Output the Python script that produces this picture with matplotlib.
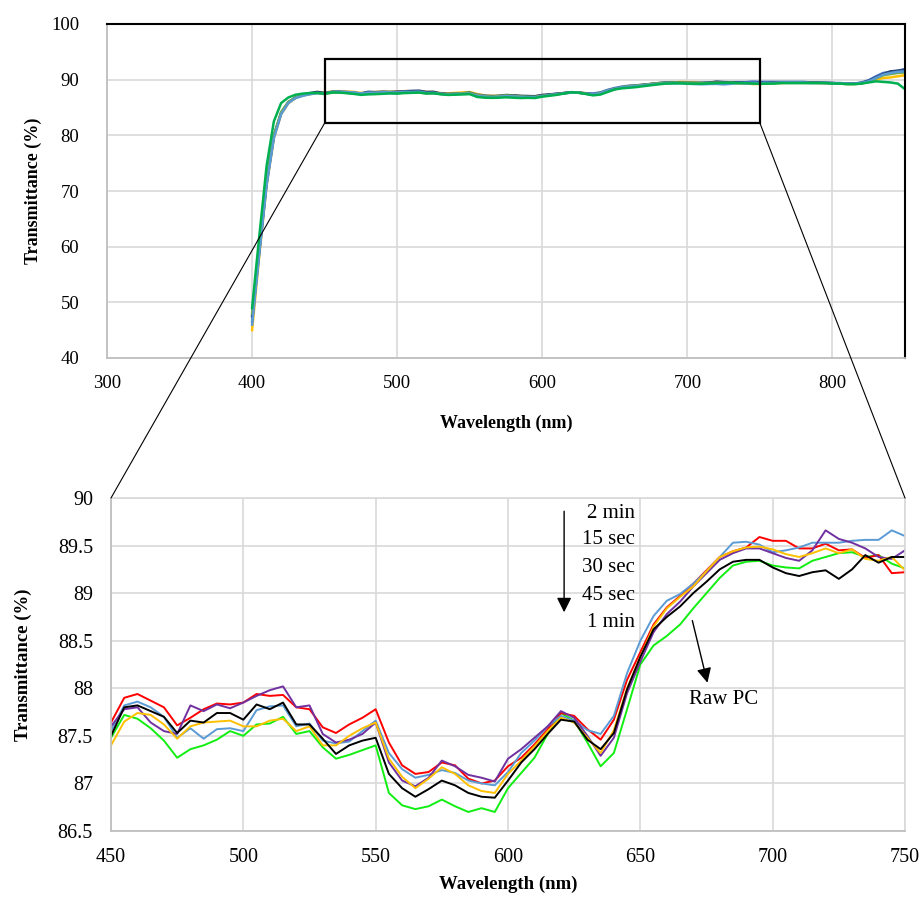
import numpy as np
import matplotlib
matplotlib.use('Agg')
import matplotlib.pyplot as plt
from matplotlib.patches import Rectangle, ConnectionPatch

plt.rcParams['font.family'] = ['Liberation Serif', 'DejaVu Serif']

# zoomed region, 5 nm steps (450-750 nm)
wl = np.arange(450, 751, 5)

t_red = [87.64, 87.90, 87.94, 87.87, 87.80, 87.61, 87.69, 87.78, 87.84, 87.83, 87.85, 87.94, 87.92, 87.93, 87.80, 87.78,
         87.59, 87.53, 87.62, 87.69, 87.78, 87.43, 87.19, 87.10, 87.12, 87.22, 87.19, 87.05, 87.00, 87.03, 87.18,
         87.27, 87.41, 87.57, 87.74, 87.71, 87.57, 87.46, 87.67, 88.09, 88.38, 88.67, 88.85, 88.97, 89.10, 89.24,
         89.38, 89.44, 89.48, 89.59, 89.55, 89.55, 89.47, 89.47, 89.52, 89.45, 89.46, 89.37, 89.40, 89.21, 89.22]
t_blue = [87.55, 87.82, 87.86, 87.80, 87.70, 87.48, 87.58, 87.47, 87.57, 87.58, 87.55, 87.77, 87.81, 87.82, 87.60, 87.63,
          87.45, 87.42, 87.44, 87.55, 87.66, 87.32, 87.15, 87.06, 87.09, 87.14, 87.11, 87.03, 87.00, 86.98, 87.12,
          87.32, 87.45, 87.60, 87.71, 87.66, 87.56, 87.52, 87.71, 88.16, 88.50, 88.76, 88.92, 88.99, 89.10, 89.23,
          89.38, 89.53, 89.54, 89.51, 89.43, 89.45, 89.48, 89.53, 89.53, 89.53, 89.55, 89.56, 89.56, 89.66, 89.60]
t_purple = [87.60, 87.78, 87.80, 87.64, 87.55, 87.52, 87.82, 87.76, 87.83, 87.79, 87.85, 87.92, 87.98, 88.02, 87.80, 87.82,
            87.52, 87.43, 87.46, 87.52, 87.64, 87.22, 87.03, 86.97, 87.06, 87.24, 87.18, 87.09, 87.06, 87.02, 87.26,
            87.36, 87.48, 87.60, 87.76, 87.69, 87.50, 87.29, 87.48, 87.95, 88.28, 88.59, 88.78, 88.91, 89.07, 89.21,
            89.35, 89.42, 89.47, 89.47, 89.42, 89.37, 89.34, 89.45, 89.66, 89.57, 89.53, 89.47, 89.38, 89.36, 89.45]
t_orange = [87.40, 87.65, 87.74, 87.72, 87.62, 87.47, 87.60, 87.64, 87.65, 87.66, 87.60, 87.60, 87.66, 87.68, 87.55, 87.60,
            87.40, 87.40, 87.50, 87.58, 87.64, 87.26, 87.07, 86.95, 87.05, 87.17, 87.10, 86.98, 86.92, 86.90, 87.10,
            87.24, 87.39, 87.55, 87.69, 87.64, 87.48, 87.32, 87.56, 88.00, 88.33, 88.65, 88.84, 88.96, 89.07, 89.23,
            89.38, 89.44, 89.48, 89.49, 89.46, 89.41, 89.38, 89.42, 89.47, 89.42, 89.46, 89.36, 89.34, 89.38, 89.24]
t_black = [87.50, 87.80, 87.82, 87.76, 87.70, 87.53, 87.66, 87.64, 87.74, 87.74, 87.67, 87.83, 87.78, 87.85, 87.62, 87.62,
           87.47, 87.31, 87.40, 87.45, 87.48, 87.10, 86.95, 86.86, 86.94, 87.03, 86.98, 86.90, 86.86, 86.85, 87.03,
           87.22, 87.36, 87.52, 87.67, 87.65, 87.46, 87.36, 87.53, 87.99, 88.33, 88.62, 88.75, 88.86, 89.00, 89.12,
           89.25, 89.33, 89.35, 89.35, 89.27, 89.21, 89.18, 89.22, 89.24, 89.15, 89.25, 89.40, 89.32, 89.38, 89.38]
t_green = [87.48, 87.72, 87.68, 87.58, 87.45, 87.27, 87.36, 87.40, 87.46, 87.55, 87.50, 87.62, 87.63, 87.70, 87.52, 87.55,
           87.38, 87.26, 87.30, 87.35, 87.40, 86.90, 86.77, 86.73, 86.76, 86.83, 86.76, 86.70, 86.74, 86.70, 86.95,
           87.11, 87.27, 87.52, 87.74, 87.66, 87.43, 87.18, 87.32, 87.78, 88.25, 88.45, 88.55, 88.67, 88.84, 89.00,
           89.16, 89.29, 89.33, 89.34, 89.29, 89.27, 89.26, 89.34, 89.38, 89.42, 89.43, 89.38, 89.40, 89.31, 89.26]

# full spectrum: edge (400-445 nm) and tail (755-850 nm) for the same six samples
wl_head = [400, 405, 410, 415, 420, 425, 430, 435, 440, 445]
wl_tail = [755, 760, 765, 770, 775, 780, 785, 790, 795, 800, 805, 810, 815, 820, 825, 830, 835, 840, 845, 850]
head = [[45.0, 58.5, 71.0, 79.5, 83.8, 85.8, 86.7, 87.2, 87.5, 87.8],
        [46.5, 59.0, 71.5, 80.0, 84.0, 86.0, 86.8, 87.2, 87.5, 87.7],
        [47.5, 59.5, 71.5, 79.8, 84.0, 85.9, 86.8, 87.3, 87.6, 87.8],
        [48.0, 60.0, 72.0, 80.0, 84.2, 86.0, 86.8, 87.2, 87.4, 87.6],
        [46.0, 59.0, 71.0, 79.5, 83.8, 85.8, 86.7, 87.1, 87.4, 87.6],
        [49.0, 62.0, 74.5, 82.5, 85.8, 86.8, 87.3, 87.5, 87.6, 87.6]]
tail = [[89.3, 89.4, 89.4, 89.5, 89.5, 89.5, 89.5, 89.4, 89.4, 89.4, 89.3, 89.3, 89.3, 89.4, 89.6, 90.0, 90.3, 90.4, 90.6, 90.8],
        [89.6, 89.6, 89.6, 89.6, 89.6, 89.6, 89.5, 89.5, 89.5, 89.4, 89.4, 89.3, 89.3, 89.5, 89.9, 90.6, 91.2, 91.4, 91.6, 91.9],
        [89.4, 89.5, 89.5, 89.5, 89.5, 89.5, 89.5, 89.5, 89.4, 89.4, 89.3, 89.3, 89.3, 89.4, 89.8, 90.4, 91.0, 91.5, 91.6, 91.8],
        [89.3, 89.4, 89.4, 89.4, 89.4, 89.4, 89.4, 89.4, 89.4, 89.3, 89.3, 89.2, 89.2, 89.3, 89.6, 90.2, 90.8, 91.0, 91.2, 91.3],
        [89.4, 89.4, 89.5, 89.5, 89.5, 89.5, 89.4, 89.4, 89.4, 89.4, 89.3, 89.3, 89.3, 89.4, 89.7, 90.3, 90.9, 91.2, 91.4, 91.5],
        [89.3, 89.3, 89.4, 89.4, 89.4, 89.4, 89.4, 89.4, 89.4, 89.3, 89.3, 89.2, 89.2, 89.3, 89.5, 89.7, 89.6, 89.5, 89.3, 88.3]]

zoom_series = [t_red, t_blue, t_purple, t_orange, t_black, t_green]
top_colors = ['#FFC000', '#4472C4', '#264478', '#70AD47', '#5B9BD5', '#00B050']
zoom_colors = ['#FF0000', '#5B9BD5', '#7030A0', '#FFC000', '#000000', '#11EE11']
time_labels = ['2 min', '15 sec', '30 sec', '45 sec', '1 min']

grid_c = '#d9d9d9'
axis_c = '#bfbfbf'

fig = plt.figure(figsize=(9.24, 8.98), dpi=100)
ax1 = fig.add_axes([107/924, 1-358/898, 798/924, 334/898])
ax2 = fig.add_axes([111/924, 1-831/898, 794/924, 333/898])

# ---- full spectrum
for i in range(6):
    x = list(wl_head) + list(wl) + list(wl_tail)
    y = head[i] + zoom_series[i] + tail[i]
    ax1.plot(x, y, color=top_colors[i], lw=1.8)
ax1.set_xlim(300, 850)
ax1.set_ylim(40, 100)
ax1.set_xticks(range(300, 801, 100))
ax1.set_yticks(range(40, 101, 10))
ax1.grid(True, color=grid_c, lw=1.2)
ax1.tick_params(length=0, labelsize=13.5, pad=12)
ax1.tick_params(axis='y', pad=20)
for s in ['left', 'bottom']:
    ax1.spines[s].set_color(axis_c)
    ax1.spines[s].set_linewidth(1.3)
for s in ['top', 'right']:
    ax1.spines[s].set_color('black')
    ax1.spines[s].set_linewidth(1.5)
ax1.set_xlabel('Wavelength (nm)', fontsize=13, fontweight='bold')
ax1.set_ylabel('Transmittance (%)', fontsize=13, fontweight='bold')
ax1.xaxis.set_label_coords(0.5, -0.171)
ax1.yaxis.set_label_coords(-0.082, 0.5)

rect_lo, rect_hi = 82.2, 93.7
ax1.add_patch(Rectangle((450, rect_lo), 300, rect_hi - rect_lo, fill=False, ec='black', lw=1.6, zorder=5))

# ---- zoomed region
order = [5, 0, 1, 2, 3, 4]
for i in order:
    ax2.plot(wl, zoom_series[i], color=zoom_colors[i], lw=1.4)
ax2.set_xlim(450, 750)
ax2.set_ylim(86.5, 90)
ax2.set_xticks(range(450, 751, 50))
ax2.set_yticks(np.arange(86.5, 90.01, 0.5))
ax2.set_yticklabels(['86.5', '87', '87.5', '88', '88.5', '89', '89.5', '90'])
ax2.grid(True, color=grid_c, lw=1.2)
ax2.tick_params(length=0, labelsize=14.5, pad=12)
ax2.tick_params(axis='y', pad=13)
for s in ['left', 'bottom']:
    ax2.spines[s].set_color(axis_c)
    ax2.spines[s].set_linewidth(1.3)
for s in ['top', 'right']:
    ax2.spines[s].set_color(grid_c)
    ax2.spines[s].set_linewidth(1.2)
ax2.set_xlabel('Wavelength (nm)', fontsize=13.5, fontweight='bold')
ax2.set_ylabel('Transmittance (%)', fontsize=13.5, fontweight='bold')
ax2.xaxis.set_label_coords(0.5, -0.135)
ax2.yaxis.set_label_coords(-0.10, 0.5)

label_y = [89.84, 89.56, 89.27, 88.98, 88.69]
for lab, yy in zip(time_labels, label_y):
    ax2.text(648, yy, lab, ha='right', va='center', fontsize=15)
ax2.annotate('', xy=(621.2, 88.77), xytext=(621.2, 89.89),
             arrowprops=dict(arrowstyle='-|>', color='black', lw=1.0, mutation_scale=22))
ax2.annotate('', xy=(675.6, 88.03), xytext=(669.4, 88.74),
             arrowprops=dict(arrowstyle='-|>', color='black', lw=1.0, mutation_scale=22))
ax2.text(681.5, 87.88, 'Raw PC', ha='center', va='center', fontsize=15)

# connector lines between the box and the zoomed panel
for xa, xb in [(450, 0), (750, 1)]:
    con = ConnectionPatch(xyA=(xa, rect_lo), coordsA=ax1.transData,
                          xyB=(xb, 1), coordsB=ax2.transAxes, color='black', lw=0.8)
    fig.add_artist(con)

fig.savefig('out.png', dpi=100)
